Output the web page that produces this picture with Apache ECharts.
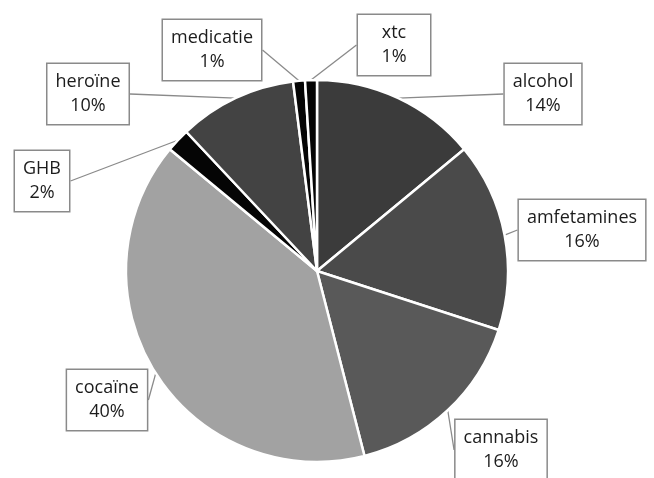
<!DOCTYPE html>
<html>
<head>
<meta charset="utf-8">
<script src="https://cdn.jsdelivr.net/npm/echarts@6/dist/echarts.min.js"></script>
<style>
  html, body { margin: 0; padding: 0; background: #fff; }
  #chart { width: 654px; height: 478px; }
</style>
</head>
<body>
<div id="chart"></div>
<script>
// Substances, in clockwise order from 12 o'clock
const categories = ['alcohol', 'amfetamines', 'cannabis', 'cocaïne', 'GHB', 'heroïne', 'medicatie', 'xtc'];
const shares = [14, 16, 16, 40, 2, 10, 1, 1];

// Slice fills
const sliceColors = ['#3b3b3b', '#4a4a4a', '#595959', '#a2a2a2', '#050505', '#434343', '#050505', '#050505'];
// Callout box centres (px)
const calloutCentres = [
  [543, 94], [582, 230], [501, 450], [107, 400],
  [42, 181], [88, 94], [212, 50], [394, 45]
];
// Minimum text width of each callout box (px, 0 = fit text)
const calloutMinWidths = [0, 0, 0, 0, 0, 0, 0, 56];

const chart = echarts.init(document.getElementById('chart'), null, { renderer: 'canvas' });

chart.setOption({
  animation: false,
  backgroundColor: '#ffffff',
  series: [{
    type: 'pie',
    center: [317, 271],
    radius: 191,
    startAngle: 90,
    clockwise: true,
    avoidLabelOverlap: false,
    data: categories.map((name, i) => {
      const item = {
        name: name,
        value: shares[i],
        itemStyle: { color: sliceColors[i] }
      };
      if (calloutMinWidths[i]) item.label = { width: calloutMinWidths[i] };
      return item;
    }),
    itemStyle: { borderColor: '#ffffff', borderWidth: 2.5 },
    label: {
      show: true,
      formatter: '{b}\n{c}%',
      fontFamily: 'Open Sans',
      fontSize: 18,
      lineHeight: 24,
      color: '#1c1c1c',
      align: 'center',
      backgroundColor: '#ffffff',
      borderColor: '#8a8a8a',
      borderWidth: 1.5,
      padding: [7, 8, 5, 8]
    },
    labelLine: {
      show: true,
      length: 1,
      length2: 0,
      smooth: false,
      lineStyle: { color: '#8a8a8a', width: 1.3 }
    },
    labelLayout: function (params) {
      const c = calloutCentres[params.dataIndex];
      return { x: c[0], y: c[1], align: 'center', verticalAlign: 'middle' };
    }
  }]
});
</script>
</body>
</html>
